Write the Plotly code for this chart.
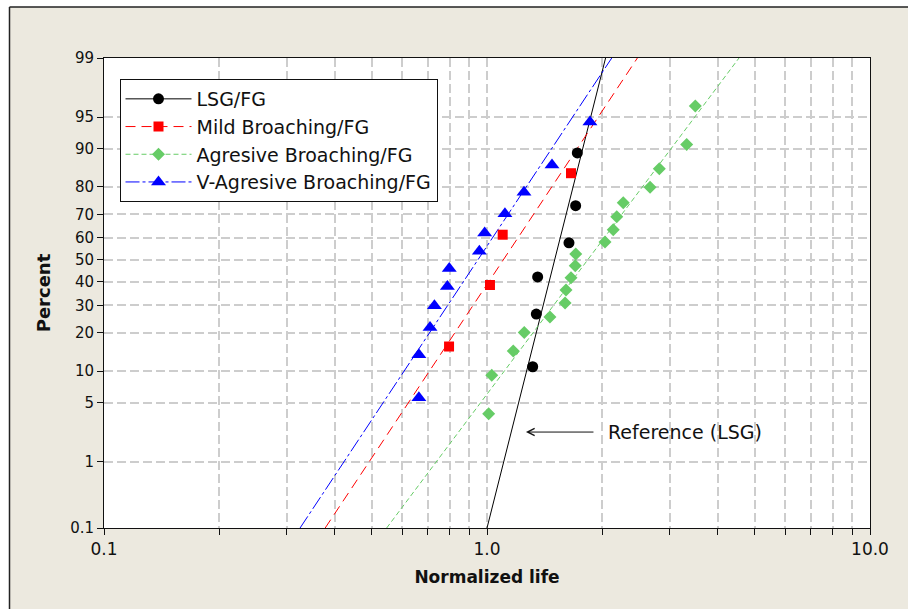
import math
from statistics import NormalDist
import plotly.graph_objects as go

ND = NormalDist()


def zq(p):
    """Percent -> normal (lognormal probability paper) coordinate."""
    return ND.inv_cdf(p / 100.0)


# ---------------- data ----------------
lsg_life = [1.316, 1.345, 1.356, 1.637, 1.704, 1.721]
lsg_pct = [10.9, 26.6, 42.2, 57.8, 73.4, 89.1]

mild_life = [0.796, 1.018, 1.099, 1.657]
mild_pct = [15.9, 38.6, 61.4, 84.1]

agr_life = [1.010, 1.029, 1.171, 1.251, 1.460, 1.599, 1.608, 1.657, 1.700,
            1.705, 2.033, 2.136, 2.182, 2.269, 2.665, 2.818, 3.322, 3.499]
agr_pct = [3.8, 9.2, 14.7, 20.1, 25.5, 31.0, 36.4, 41.8, 47.3,
           52.7, 58.2, 63.6, 69.0, 74.5, 79.9, 85.3, 90.8, 96.2]

vagr_life = [0.664, 0.664, 0.710, 0.729, 0.788, 0.797,
             0.955, 0.986, 1.114, 1.249, 1.478, 1.857]
vagr_pct = [5.6, 13.7, 21.8, 29.8, 37.9, 46.0,
            54.0, 62.1, 70.2, 78.2, 86.3, 94.4]

# fitted lognormal lines: life at 0.1 % and at 99 %
fit_pct = [0.1, 99.0]
lsg_fit = [1.00, 2.04]
mild_fit = [0.378, 2.47]
agr_fit = [0.547, 4.55]
vagr_fit = [0.325, 2.117]

series_names = ["LSG/FG", "Mild Broaching/FG",
                "Agresive Broaching/FG", "V-Agresive Broaching/FG"]

y_tick_pct = [0.1, 1, 5, 10, 20, 30, 40, 50, 60, 70, 80, 90, 95, 99]
y_tick_text = ["0.1", "1", "5", "10", "20", "30", "40", "50",
               "60", "70", "80", "90", "95", "99"]
x_tick_vals = [0.1, 0.2, 0.3, 0.4, 0.5, 0.6, 0.7, 0.8, 0.9,
               1, 2, 3, 4, 5, 6, 7, 8, 9, 10]
x_tick_text = ["0.1", "", "", "", "", "", "", "", "",
               "1.0", "", "", "", "", "", "", "", "", "10.0"]

annot_life = 1.264
annot_pct = 2.36
annot_text = "Reference (LSG)"

# ---------------- styles ----------------
FONT = "DejaVu Sans"
BEIGE = "#ECE9DF"
styles = [
    dict(color="#000000", dash="solid", symbol="circle", size=11),
    dict(color="#FF0000", dash="10px,6px", symbol="square", size=10),
    dict(color="#66CC66", dash="5px,3px", symbol="diamond", size=10),
    dict(color="#0000FF", dash="14px,3px,3px,3px", symbol="triangle-up", size=13),
]
points = [(lsg_life, lsg_pct), (mild_life, mild_pct),
          (agr_life, agr_pct), (vagr_life, vagr_pct)]
fits = [lsg_fit, mild_fit, agr_fit, vagr_fit]

fig = go.Figure()

# fitted lines
for fit, st, name in zip(fits, styles, series_names):
    fig.add_trace(go.Scatter(
        x=fit, y=[zq(p) for p in fit_pct], mode="lines",
        line=dict(color=st["color"], width=1, dash=st["dash"]),
        showlegend=False, hoverinfo="skip", name=name + " fit"))

# data points
for (life, pct), st, name in zip(points, styles, series_names):
    fig.add_trace(go.Scatter(
        x=life, y=[zq(p) for p in pct], mode="markers",
        marker=dict(color=st["color"], symbol=st["symbol"], size=st["size"],
                    line=dict(width=0)),
        showlegend=False, name=name))

# legend entries (line + marker)
for st, name in zip(styles, series_names):
    fig.add_trace(go.Scatter(
        x=[None], y=[None], mode="lines+markers", name=name,
        line=dict(color=st["color"], width=1, dash=st["dash"]),
        marker=dict(color=st["color"], symbol=st["symbol"], size=st["size"],
                    line=dict(width=0))))

# plot-area pixel geometry
W, H = 908, 609
L, R, T, B = 104, 38, 58, 81
pw, ph = W - L - R, H - T - B


def px_x(px):
    return (px - L) / pw


def px_y(py):
    return (H - B - py) / ph


frame_x = px_x(9.5)
frame_y = px_y(7)
shapes = [
    dict(type="rect", xref="paper", yref="paper", x0=-0.3, x1=1.3,
         y0=frame_y, y1=1.3, fillcolor="white", line=dict(width=0), layer="below"),
    dict(type="rect", xref="paper", yref="paper", x0=-0.3, x1=frame_x,
         y0=-0.3, y1=1.3, fillcolor="white", line=dict(width=0), layer="below"),
    dict(type="line", xref="paper", yref="paper", x0=frame_x, x1=1.3,
         y0=frame_y, y1=frame_y, line=dict(color="#222222", width=1.5)),
    dict(type="line", xref="paper", yref="paper", x0=frame_x, x1=frame_x,
         y0=-0.3, y1=frame_y, line=dict(color="#222222", width=1.5)),
]

grid = dict(showgrid=True, gridcolor="#CDCDCD", gridwidth=1.6, griddash="9px,4px")

fig.update_layout(
    width=W, height=H, autosize=False,
    margin=dict(l=L, r=R, t=T, b=B, pad=0),
    paper_bgcolor=BEIGE, plot_bgcolor="white",
    font=dict(family=FONT, color="#111111"),
    shapes=shapes,
    showlegend=True,
    legend=dict(x=px_x(119.5), y=px_y(79), xanchor="left", yanchor="top",
                bgcolor="white", bordercolor="#111111", borderwidth=1,
                font=dict(family=FONT, size=19, color="#111111"),
                itemwidth=66, tracegroupgap=0),
    xaxis=dict(type="log", range=[-1, 1], tickmode="array",
               tickvals=x_tick_vals, ticktext=x_tick_text,
               ticks="outside", ticklen=6, tickcolor="#111111",
               tickfont=dict(size=17),
               showline=True, linecolor="#111111", linewidth=1, mirror=True,
               zeroline=False,
               title=dict(text="Normalized life", standoff=12,
                          font=dict(size=17, weight="bold")),
               **grid),
    yaxis=dict(range=[zq(0.1), zq(99)], tickmode="array",
               tickvals=[zq(p) for p in y_tick_pct], ticktext=y_tick_text,
               ticks="outside", ticklen=6, tickcolor="#111111",
               tickfont=dict(size=15),
               showline=True, linecolor="#111111", linewidth=1, mirror=True,
               zeroline=False,
               title=dict(text="Percent", standoff=14,
                          font=dict(size=18, weight="bold")),
               **grid),
    annotations=[dict(
        x=math.log10(annot_life), y=zq(annot_pct), xref="x", yref="y",
        text=annot_text, showarrow=True, ax=159, ay=0,
        arrowhead=5, arrowsize=1.4, arrowwidth=1, arrowcolor="#111111",
        borderpad=14, font=dict(family=FONT, size=19, color="#111111"))],
)

fig.write_html("out.html")
